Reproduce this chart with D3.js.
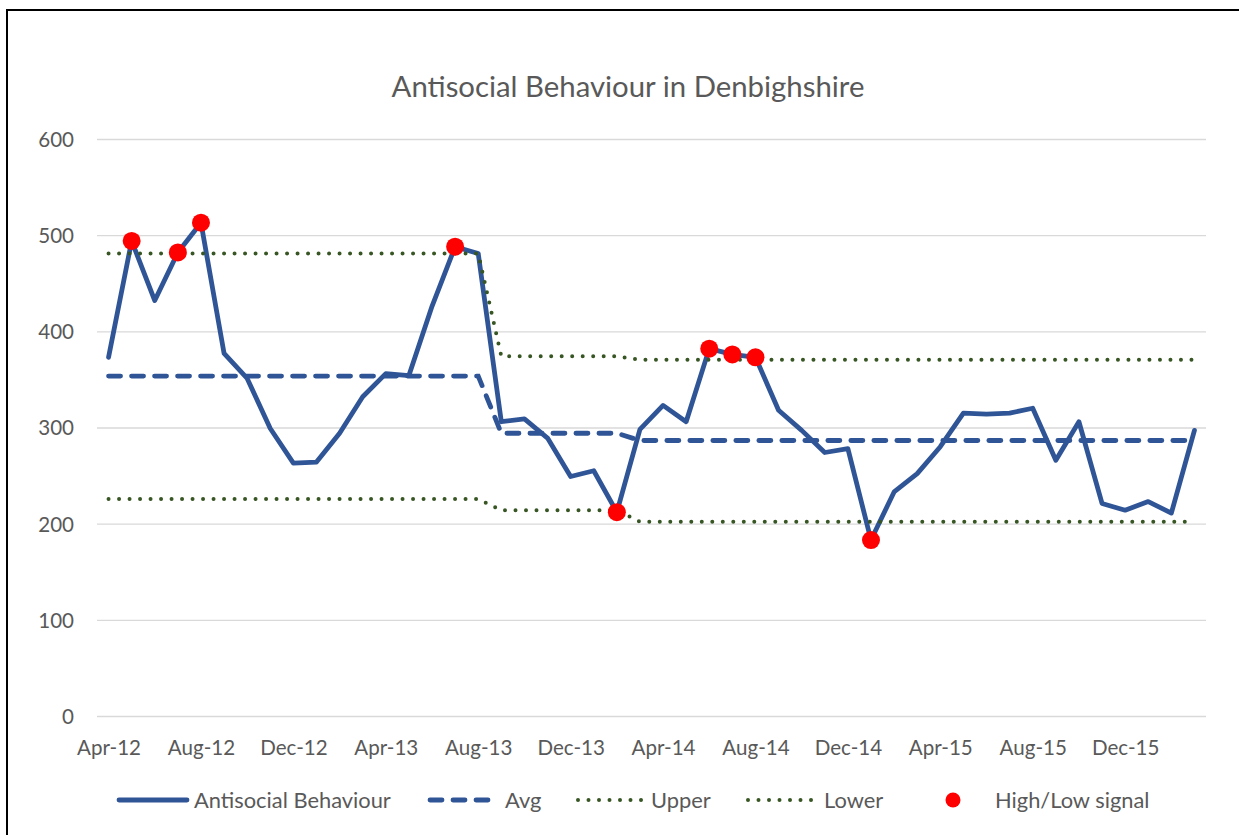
<!DOCTYPE html>
<html><head><meta charset="utf-8">
<script src="https://cdn.jsdelivr.net/npm/d3@7"></script>
<style>body{margin:0;background:#fff;}svg{display:block;font-family:Lato,sans-serif;}</style>
</head><body>
<svg id="c" width="1239" height="835"></svg>
<script>
const months = ["Apr-12","May-12","Jun-12","Jul-12","Aug-12","Sep-12","Oct-12","Nov-12","Dec-12","Jan-13","Feb-13","Mar-13",
"Apr-13","May-13","Jun-13","Jul-13","Aug-13","Sep-13","Oct-13","Nov-13","Dec-13","Jan-14","Feb-14","Mar-14",
"Apr-14","May-14","Jun-14","Jul-14","Aug-14","Sep-14","Oct-14","Nov-14","Dec-14","Jan-15","Feb-15","Mar-15",
"Apr-15","May-15","Jun-15","Jul-15","Aug-15","Sep-15","Oct-15","Nov-15","Dec-15","Jan-16","Feb-16","Mar-16"];
const asb = [373,494,432,482,513,377,351,299,263,264,294,332,356,354,426,488,481,306,309,289,249,255,212,298,323,306,382,376,373,318,297,274,278,183,233,252,280,315,314,315,320,266,306,221,214,223,211,297];
const avg = [353.5,353.5,353.5,353.5,353.5,353.5,353.5,353.5,353.5,353.5,353.5,353.5,353.5,353.5,353.5,353.5,353.5,
294,294,294,294,294,294,
286.5,286.5,286.5,286.5,286.5,286.5,286.5,286.5,286.5,286.5,286.5,286.5,286.5,286.5,286.5,286.5,286.5,286.5,286.5,286.5,286.5,286.5,286.5,286.5,286.5];
const upper = [481,481,481,481,481,481,481,481,481,481,481,481,481,481,481,481,481,
374,374,374,374,374,374,
370.5,370.5,370.5,370.5,370.5,370.5,370.5,370.5,370.5,370.5,370.5,370.5,370.5,370.5,370.5,370.5,370.5,370.5,370.5,370.5,370.5,370.5,370.5,370.5,370.5];
const lower = [225.6,225.6,225.6,225.6,225.6,225.6,225.6,225.6,225.6,225.6,225.6,225.6,225.6,225.6,225.6,225.6,225.6,
214,214,214,214,214,214,
202,202,202,202,202,202,202,202,202,202,202,202,202,202,202,202,202,202,202,202,202,202,202,202,202];
const signalMonths = ["May-12","Jul-12","Aug-12","Jul-13","Feb-14","Jun-14","Jul-14","Aug-14","Jan-15"];
const xTickLabels = ["Apr-12","Aug-12","Dec-12","Apr-13","Aug-13","Dec-13","Apr-14","Aug-14","Dec-14","Apr-15","Aug-15","Dec-15"];
const yTicks = [0,100,200,300,400,500,600];
const title = "Antisocial Behaviour in Denbighshire";
const legendNames = ["Antisocial Behaviour","Avg","Upper","Lower","High/Low signal"];

const svg = d3.select("#c");
const txt = "#595959", blue = "#2F5597", green = "#375623";
const FONT = "Lato";

function fitSize(str, target){
  const t = svg.append("text").attr("font-family",FONT).attr("font-size",100).text(str);
  const w = t.node().getComputedTextLength(); t.remove();
  return 100*target/w;
}
const fsTitle = fitSize(title, 473);
const fsTick = fitSize("Apr-12", 64);
const fsLeg = fitSize("Antisocial Behaviour", 197);
const capHalf = 0.36;

svg.append("rect").attr("x",7).attr("y",10).attr("width",1260).attr("height",900)
  .attr("fill","#fff").attr("stroke","#000").attr("stroke-width",2);

const x = d3.scalePoint().domain(months).range([97,1206]).padding(0.5);
const y = d3.scaleLinear().domain([0,600]).range([716,139]);

svg.append("text").attr("x",628).attr("y",86+capHalf*fsTitle).attr("text-anchor","middle")
  .attr("font-family",FONT).attr("font-size",fsTitle).attr("fill",txt).text(title);

const yAxis = svg.append("g").attr("transform","translate(97,0)")
  .call(d3.axisLeft(y).tickValues(yTicks).tickSize(-1109).tickPadding(23));
yAxis.select(".domain").remove();
yAxis.selectAll("line").attr("stroke","#D9D9D9").attr("stroke-width",1.3);
yAxis.selectAll("text").attr("fill",txt).attr("font-size",fsTick).attr("font-family",FONT)
  .attr("dy",null).attr("y",capHalf*fsTick);

const xAxis = svg.append("g").attr("transform","translate(0,716)")
  .call(d3.axisBottom(x).tickValues(xTickLabels).tickSize(0));
xAxis.select(".domain").remove();
xAxis.selectAll("text").attr("fill",txt).attr("font-size",fsTick).attr("font-family",FONT)
  .attr("dy",null).attr("y",32+capHalf*fsTick);

const line = d3.line().x((d,i)=>x(months[i])).y(d=>y(d));
svg.append("path").datum(asb).attr("d",line).attr("fill","none").attr("stroke",blue)
  .attr("stroke-width",4.8).attr("stroke-linejoin","round").attr("stroke-linecap","round");
svg.append("path").datum(avg).attr("d",line).attr("fill","none").attr("stroke",blue)
  .attr("stroke-width",4.8).attr("stroke-dasharray","12 11").attr("stroke-linecap","round");
[upper,lower].forEach(s=>{
  svg.append("path").datum(s).attr("d",line).attr("fill","none").attr("stroke",green)
    .attr("stroke-width",4).attr("stroke-dasharray","0 10.5").attr("stroke-linecap","round");
});
svg.append("g").selectAll("circle").data(signalMonths).join("circle")
  .attr("cx",d=>x(d)).attr("cy",d=>y(asb[months.indexOf(d)])).attr("r",9).attr("fill","#FF0000");

const lg = svg.append("g").attr("font-size",fsLeg).attr("font-family",FONT).attr("fill",txt);
const ly = 800, lty = ly + capHalf*fsLeg;
lg.append("line").attr("x1",119).attr("x2",187).attr("y1",ly).attr("y2",ly).attr("stroke",blue).attr("stroke-width",4.8).attr("stroke-linecap","round");
lg.append("text").attr("x",194).attr("y",lty).text(legendNames[0]);
lg.append("line").attr("x1",430).attr("x2",489).attr("y1",ly).attr("y2",ly).attr("stroke",blue).attr("stroke-width",4.8).attr("stroke-dasharray","12 11").attr("stroke-linecap","round");
lg.append("text").attr("x",505).attr("y",lty).text(legendNames[1]);
lg.append("line").attr("x1",578).attr("x2",642).attr("y1",ly).attr("y2",ly).attr("stroke",green).attr("stroke-width",4).attr("stroke-dasharray","0 10.5").attr("stroke-linecap","round");
lg.append("text").attr("x",651).attr("y",lty).text(legendNames[2]);
lg.append("line").attr("x1",748).attr("x2",813).attr("y1",ly).attr("y2",ly).attr("stroke",green).attr("stroke-width",4).attr("stroke-dasharray","0 10.5").attr("stroke-linecap","round");
lg.append("text").attr("x",824).attr("y",lty).text(legendNames[3]);
lg.append("circle").attr("cx",953).attr("cy",ly).attr("r",7.5).attr("fill","#FF0000");
lg.append("text").attr("x",995).attr("y",lty).text(legendNames[4]);
</script>
</body></html>
